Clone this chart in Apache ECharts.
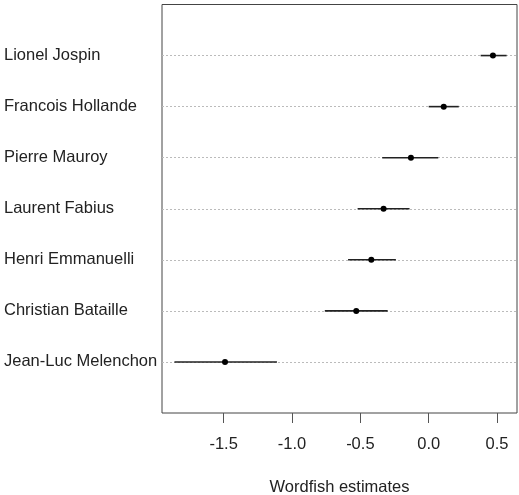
<!DOCTYPE html>
<html>
<head>
<meta charset="utf-8">
<script src="https://cdn.jsdelivr.net/npm/echarts@6/dist/echarts.min.js"></script>
<style>
  html, body { margin: 0; padding: 0; background: #fff; }
  #chart { width: 519px; height: 495px; }
</style>
</head>
<body>
<div id="chart"></div>
<script>
// politicians, top to bottom
const names = ['Lionel Jospin', 'Francois Hollande', 'Pierre Mauroy', 'Laurent Fabius', 'Henri Emmanuelli', 'Christian Bataille', 'Jean-Luc Melenchon'];
const estimates = [0.47, 0.11, -0.13, -0.33, -0.42, -0.53, -1.49];
const lower = [0.38, 0.00, -0.34, -0.52, -0.59, -0.76, -1.86];
const upper = [0.57, 0.22, 0.07, -0.14, -0.24, -0.30, -1.11];
const xTicks = [-1.5, -1.0, -0.5, 0.0, 0.5];

const font = '"Liberation Sans", Arial, sans-serif';
const rows = names.map((n, i) => names.length - i); // top row highest

const chart = echarts.init(document.getElementById('chart'));

let data = [];
names.forEach((n, i) => {
  data.push([estimates[i], rows[i], lower[i], upper[i]]);
});

let option = {
  animation: false,
  grid: {
    left: 162,
    right: 2,
    top: 4.5,
    bottom: 82,
    outerBoundsMode: 'none',
    containLabel: false,
    show: true,
    borderColor: '#444',
    borderWidth: 1
  },
  xAxis: {
    type: 'value',
    min: -1.951,
    max: 0.646,
    name: 'Wordfish estimates',
    nameLocation: 'middle',
    nameGap: 66,
    nameTextStyle: { fontFamily: font, fontSize: 16.5, color: '#222' },
    axisLine: { show: false, onZero: false },
    axisTick: { show: true, length: 10, customValues: xTicks, lineStyle: { color: '#555' } },
    axisLabel: {
      customValues: xTicks,
      margin: 23,
      fontFamily: font,
      fontSize: 16.5,
      color: '#222',
      formatter: v => v.toFixed(1)
    },
    splitLine: { show: false }
  },
  yAxis: {
    type: 'value',
    min: 0,
    max: 8,
    axisLine: { show: false },
    axisTick: { show: false, customValues: rows },
    axisLabel: {
      customValues: rows,
      align: 'left',
      margin: 158,
      fontFamily: font,
      fontSize: 16.5,
      color: '#222',
      formatter: v => names[names.length - v]
    },
    splitLine: { show: true, lineStyle: { color: '#bbb', type: [2, 2], width: 1 } }
  },
  series: [{
    type: 'custom',
    data: data,
    renderItem: function (params, api) {
      const y = api.value(1);
      const p = api.coord([api.value(0), y]);
      const lo = api.coord([api.value(2), y]);
      const hi = api.coord([api.value(3), y]);
      return {
        type: 'group',
        children: [
          { type: 'line', shape: { x1: lo[0], y1: lo[1], x2: hi[0], y2: hi[1] }, style: { stroke: '#222', lineWidth: 1.6 } },
          { type: 'circle', shape: { cx: p[0], cy: p[1], r: 3 }, style: { fill: '#000' } }
        ]
      };
    }
  }]
};
chart.setOption(option);
</script>
</body>
</html>
